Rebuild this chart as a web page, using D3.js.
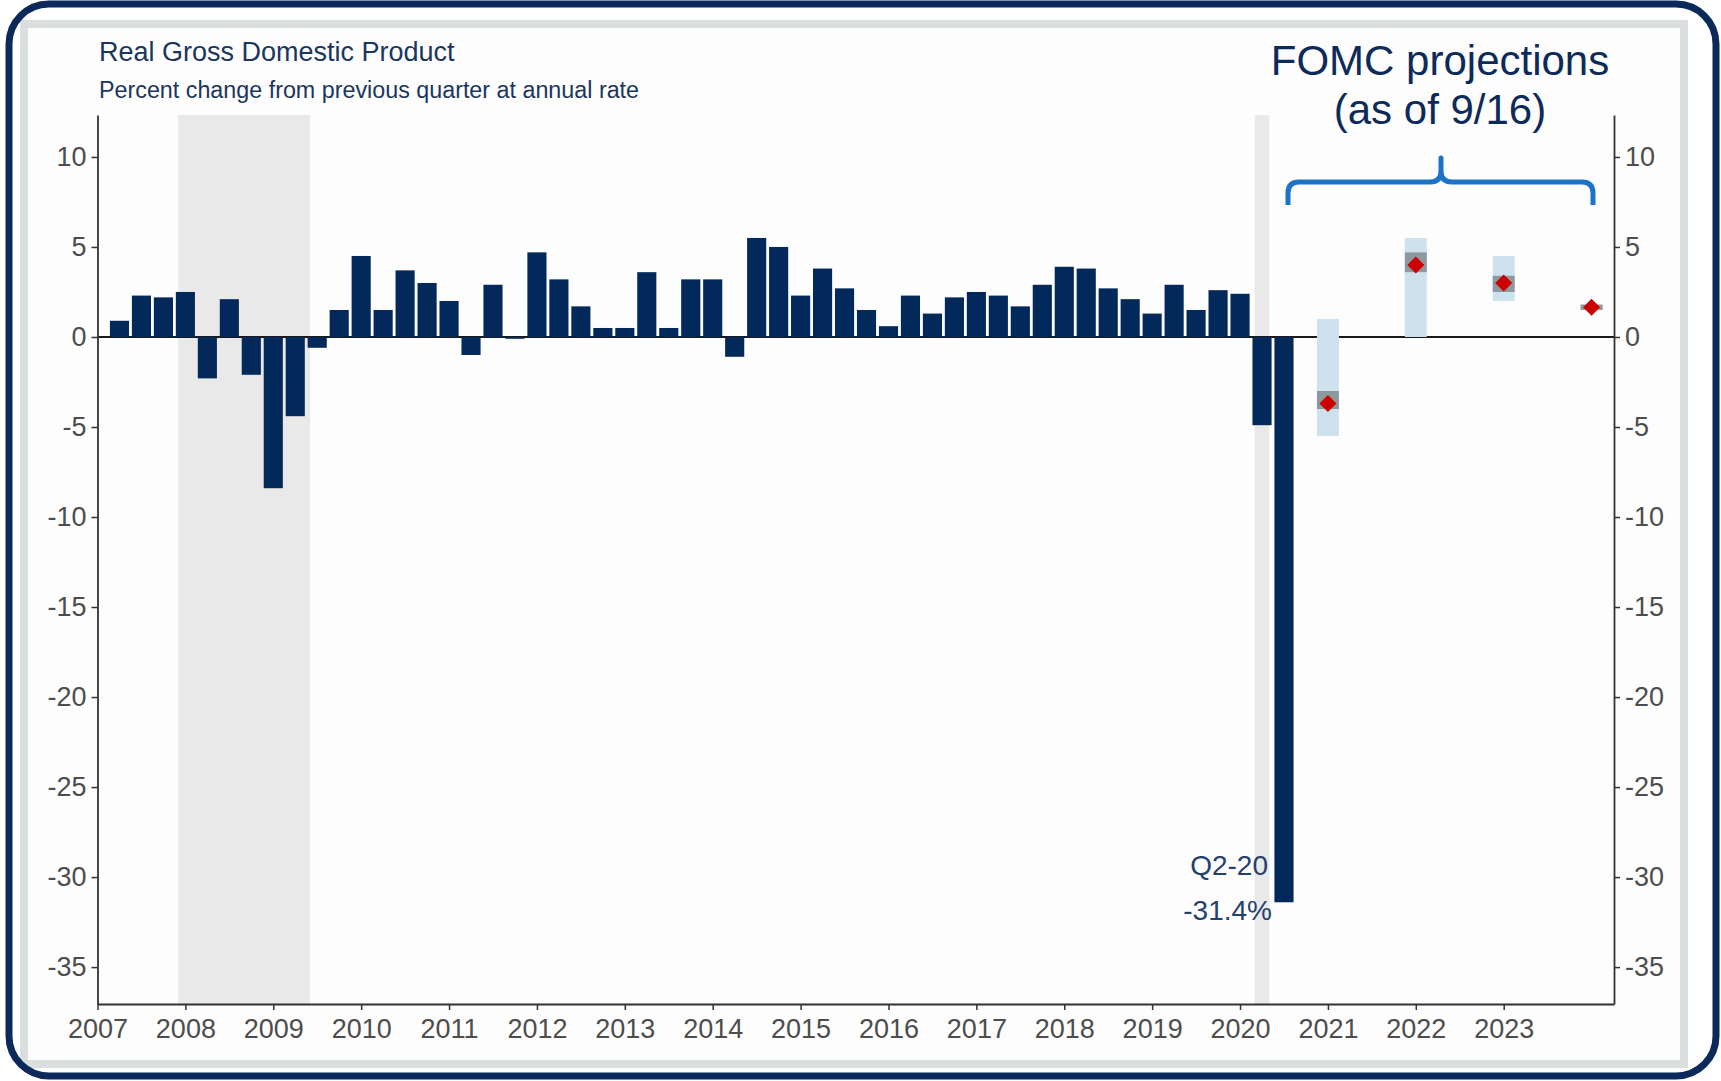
<!DOCTYPE html>
<html>
<head>
<meta charset="utf-8">
<script src="https://cdn.jsdelivr.net/npm/d3@7"></script>
<style>
  html, body { margin: 0; padding: 0; background: #ffffff; }
  svg text { font-family: "Liberation Sans", Arial, sans-serif; }
</style>
</head>
<body>
<svg id="chart" width="1721" height="1081"></svg>
<script>
// quarterly real GDP growth, 2007Q1 .. 2020Q2 (percent, annual rate)
var gdpGrowth = [
  0.9, 2.3, 2.2, 2.5,
  -2.3, 2.1, -2.1, -8.4,
  -4.4, -0.6, 1.5, 4.5,
  1.5, 3.7, 3.0, 2.0,
  -1.0, 2.9, -0.1, 4.7,
  3.2, 1.7, 0.5, 0.5,
  3.6, 0.5, 3.2, 3.2,
  -1.1, 5.5, 5.0, 2.3,
  3.8, 2.7, 1.5, 0.6,
  2.3, 1.3, 2.2, 2.5,
  2.3, 1.7, 2.9, 3.9,
  3.8, 2.7, 2.1, 1.3,
  2.9, 1.5, 2.6, 2.4,
  -4.9, -31.4
];
var firstYear = 2007;

// NBER recessions (decimal years)
var recessionStart = [2007.917, 2020.167];
var recessionEnd = [2009.417, 2020.333];

// FOMC projections, plotted at year end
var projPosition = [2021, 2022, 2023, 2024];
var projMedian = [-3.7, 4.0, 3.0, 1.65];
var projCentralLow = [-4.0, 3.6, 2.5, 1.5];
var projCentralHigh = [-3.0, 4.7, 3.4, 1.8];
var projRangeLow = [-5.5, 0.0, 2.0, 1.5];
var projRangeHigh = [1.0, 5.5, 4.5, 1.8];

var yTicks = [-35, -30, -25, -20, -15, -10, -5, 0, 5, 10];
var xTicks = [2007, 2008, 2009, 2010, 2011, 2012, 2013, 2014, 2015,
  2016, 2017, 2018, 2019, 2020, 2021, 2022, 2023];

var svg = d3.select("#chart");

// frame
svg.append("rect")
  .attr("x", 20).attr("y", 20).attr("width", 1668).attr("height", 1048)
  .attr("fill", "#dadedf");
svg.append("rect")
  .attr("x", 28).attr("y", 28).attr("width", 1652).attr("height", 1032)
  .attr("fill", "#fdfdfd");
svg.append("rect")
  .attr("x", 9).attr("y", 4).attr("width", 1707).attr("height", 1072)
  .attr("rx", 40).attr("ry", 40)
  .attr("fill", "none")
  .attr("stroke", "#0b2a5a")
  .attr("stroke-width", 7);

var plotL = 97.5, plotR = 1614, plotT = 115, plotB = 1004;

var x = d3.scaleLinear().domain([2007, 2024.255]).range([plotL, plotR]);
var y = d3.scaleLinear().domain([-37.05, 12.33]).range([plotB, plotT]);

var qw = x(2007.25) - x(2007);
var barW = qw * 0.87;

// recession shading
svg.append("g")
  .selectAll("rect")
  .data(recessionStart)
  .enter()
  .append("rect")
  .attr("x", function (d) { return x(d); })
  .attr("width", function (d, i) { return x(recessionEnd[i]) - x(d); })
  .attr("y", plotT)
  .attr("height", plotB - plotT)
  .attr("fill", "#e9e9e9");

// zero line
svg.append("line")
  .attr("x1", plotL).attr("x2", plotR)
  .attr("y1", y(0)).attr("y2", y(0))
  .attr("stroke", "#1a1a1a")
  .attr("stroke-width", 2);

// bars
svg.append("g")
  .selectAll("rect")
  .data(gdpGrowth)
  .enter()
  .append("rect")
  .attr("x", function (d, i) { return x(firstYear + (i + 1) * 0.25) - barW / 2; })
  .attr("width", barW)
  .attr("y", function (d) { return y(Math.max(0, d)); })
  .attr("height", function (d) { return Math.abs(y(d) - y(0)); })
  .attr("fill", "#03285a");

// projections
var pw = qw;
var proj = svg.append("g");
proj.selectAll(".range")
  .data(projPosition)
  .enter()
  .append("rect")
  .attr("class", "range")
  .attr("x", function (d) { return x(d) - pw / 2; })
  .attr("width", pw)
  .attr("y", function (d, i) { return y(projRangeHigh[i]); })
  .attr("height", function (d, i) { return y(projRangeLow[i]) - y(projRangeHigh[i]); })
  .attr("fill", "#cde2ed");
proj.selectAll(".central")
  .data(projPosition)
  .enter()
  .append("rect")
  .attr("class", "central")
  .attr("x", function (d) { return x(d) - pw / 2; })
  .attr("width", pw)
  .attr("y", function (d, i) { return y(projCentralHigh[i]); })
  .attr("height", function (d, i) { return y(projCentralLow[i]) - y(projCentralHigh[i]); })
  .attr("fill", "#8d999f");
proj.selectAll(".median")
  .data(projPosition)
  .enter()
  .append("path")
  .attr("class", "median")
  .attr("d", d3.symbol().type(d3.symbolSquare).size(145))
  .attr("transform", function (d, i) {
    return "translate(" + x(d) + "," + y(projMedian[i]) + ") rotate(45)";
  })
  .attr("fill", "#cc0000");

// axes
function styleAxis(g) {
  g.select(".domain").attr("stroke", "#333").attr("stroke-width", 1.8);
  g.selectAll(".tick line").attr("stroke", "#333").attr("stroke-width", 1.5);
  g.selectAll(".tick text")
    .attr("fill", "#4d4d4d")
    .style("font-size", "27px");
}
var plainNum = function (d) { return String(d); };

svg.append("g")
  .attr("transform", "translate(" + plotL + ",0)")
  .call(d3.axisLeft(y).tickValues(yTicks).tickFormat(plainNum).tickSize(6).tickPadding(5).tickSizeOuter(0))
  .call(styleAxis);

svg.append("g")
  .attr("transform", "translate(" + plotR + ",0)")
  .call(d3.axisRight(y).tickValues(yTicks).tickFormat(plainNum).tickSize(6).tickPadding(5).tickSizeOuter(0))
  .call(styleAxis);

svg.append("g")
  .attr("transform", "translate(0," + plotB + ")")
  .call(d3.axisBottom(x).tickValues(xTicks).tickFormat(plainNum).tickSize(6).tickPadding(9).tickSizeOuter(0))
  .call(styleAxis);

// titles
svg.append("text")
  .attr("x", 99).attr("y", 61)
  .attr("fill", "#1b365d")
  .style("font-size", "27px")
  .text("Real Gross Domestic Product");
svg.append("text")
  .attr("x", 99).attr("y", 98)
  .attr("fill", "#1b365d")
  .style("font-size", "23.3px")
  .text("Percent change from previous quarter at annual rate");

// FOMC annotation
svg.append("text")
  .attr("x", 1440).attr("y", 75)
  .attr("text-anchor", "middle")
  .attr("fill", "#0d2b5a")
  .style("font-size", "42px")
  .text("FOMC projections");
svg.append("text")
  .attr("x", 1440).attr("y", 124)
  .attr("text-anchor", "middle")
  .attr("fill", "#0d2b5a")
  .style("font-size", "42px")
  .text("(as of 9/16)");

svg.append("path")
  .attr("d", "M1288,205 V193 Q1288,182 1299,182 H1430 Q1441,182 1441,171 V158 V171 Q1441,182 1452,182 H1582 Q1593,182 1593,193 V205")
  .attr("fill", "none")
  .attr("stroke", "#1c74c7")
  .attr("stroke-width", 5)
  .attr("stroke-linejoin", "round");

// trough label
svg.append("text")
  .attr("x", 1268).attr("y", 875)
  .attr("text-anchor", "end")
  .attr("fill", "#24406e")
  .style("font-size", "28px")
  .text("Q2-20");
svg.append("text")
  .attr("x", 1272).attr("y", 920)
  .attr("text-anchor", "end")
  .attr("fill", "#24406e")
  .style("font-size", "28px")
  .text("-31.4%");
</script>
</body>
</html>
